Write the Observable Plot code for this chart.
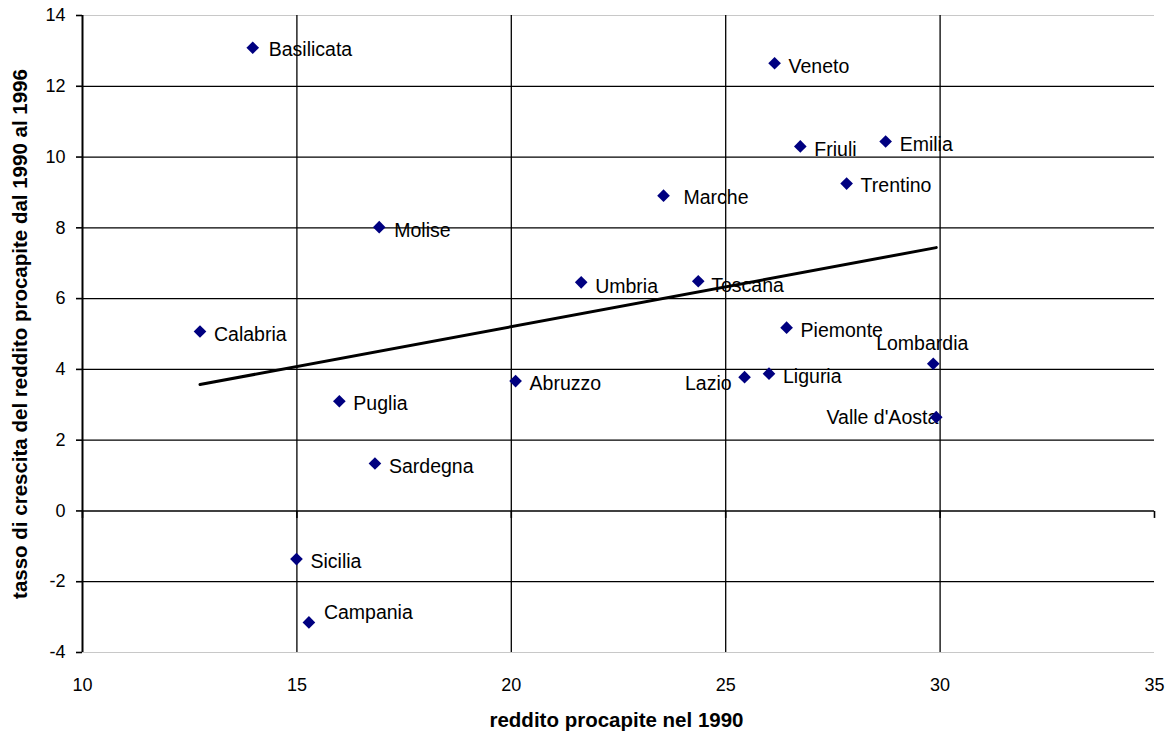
<!DOCTYPE html>
<html>
<head>
<meta charset="utf-8">
<script src="https://cdn.jsdelivr.net/npm/d3@7"></script>
<script src="https://cdn.jsdelivr.net/npm/@observablehq/plot@0.6"></script>
<style>
  html, body { margin: 0; padding: 0; background: #ffffff; }
  #chart { width: 1173px; height: 733px; }
</style>
</head>
<body>
<div id="chart"></div>
<script>
// ---- Data ----
const regions = ["Basilicata", "Molise", "Veneto", "Friuli", "Emilia", "Trentino", "Marche",
  "Piemonte", "Lombardia", "Lazio", "Liguria", "Valle d'Aosta", "Calabria", "Puglia",
  "Abruzzo", "Sardegna", "Sicilia", "Campania", "Umbria", "Toscana"];
const income1990 = [13.97, 16.92, 26.14, 26.74, 28.73, 27.82, 23.55,
  26.42, 29.84, 25.44, 26.01, 29.91, 12.74, 15.99,
  20.10, 16.82, 14.99, 15.28, 21.63, 24.36];
const growth9096 = [13.09, 8.02, 12.65, 10.30, 10.44, 9.25, 8.91,
  5.18, 4.16, 3.78, 3.88, 2.65, 5.07, 3.10,
  3.67, 1.34, -1.36, -3.15, 6.46, 6.49];
const xTicks = [10, 15, 20, 25, 30, 35];
const yTicks = [-4, -2, 0, 2, 4, 6, 8, 10, 12, 14];
const xLabel = "reddito procapite nel 1990";
const yLabel = "tasso di crescita del reddito procapite dal 1990 al 1996";

const data = regions.map((r, i) => ({region: r, x: income1990[i], y: growth9096[i]}));

// ---- Label placement (style) ----
const defaultPlacement = {anchor: "start", dx: 14, dy: 3};
const placement = {
  "Basilicata": {dx: 16, dy: 2},
  "Marche": {dx: 20, dy: 2},
  "Trentino": {dy: 2},
  "Lazio": {anchor: "end", dx: -13, dy: 7},
  "Lombardia": {anchor: "middle", dx: -11, dy: -20},
  "Valle d'Aosta": {anchor: "end", dx: 2, dy: 1},
  "Campania": {dx: 15, dy: -10},
  "Toscana": {dx: 13, dy: 4},
  "Umbria": {dy: 4},
  "Molise": {dx: 15, dy: 4}
};

const gridY = yTicks.filter(v => v !== 0 && v !== yTicks[0] && v !== yTicks[yTicks.length - 1]);
const gridX = xTicks.filter(v => v !== xTicks[0] && v !== xTicks[xTicks.length - 1]);

const tickDown = {draw(context) { context.moveTo(0, 0); context.lineTo(0, 7); }};

const labelMarks = data.map(d => {
  const p = Object.assign({}, defaultPlacement, placement[d.region] || {});
  return Plot.text([d], {
    x: "x", y: "y", text: "region",
    textAnchor: p.anchor, dx: p.dx, dy: p.dy,
    fontSize: 19.5, fill: "black"
  });
});

const chart = Plot.plot({
  width: 1173,
  height: 733,
  marginLeft: 82,
  marginRight: 19,
  marginTop: 15,
  marginBottom: 81,
  style: {fontFamily: "'Liberation Sans', Arial, sans-serif", background: "#ffffff", color: "black", overflow: "visible"},
  x: {domain: [xTicks[0], xTicks[xTicks.length - 1]]},
  y: {domain: [yTicks[0], yTicks[yTicks.length - 1]]},
  marks: [
    // frame borders (top/bottom, light gray)
    Plot.ruleY([yTicks[0], yTicks[yTicks.length - 1]], {stroke: "#c8c8c8", strokeWidth: 1}),
    // grid
    Plot.ruleY(gridY, {stroke: "black", strokeWidth: 1.3}),
    Plot.ruleX(gridX, {stroke: "black", strokeWidth: 1.3}),
    // x axis line at 0
    Plot.ruleY([0], {stroke: "black", strokeWidth: 1.6}),
    Plot.dot(xTicks, {x: d => d, y: 0, symbol: tickDown, stroke: "black", strokeWidth: 1.6, fill: "none"}),
    // y axis line
    Plot.ruleX([xTicks[0]], {stroke: "black", strokeWidth: 2}),
    Plot.axisY(yTicks, {tickSize: 6, tickPadding: 11, fontSize: 18, label: null, strokeWidth: 1.6, tickFormat: d => String(d)}),
    Plot.axisX(xTicks, {tickSize: 0, tickPadding: 26, fontSize: 18, label: null, tickFormat: d => String(d)}),
    // axis titles
    Plot.text([xLabel], {frameAnchor: "bottom", dy: 68, text: d => d, fontSize: 20.5, fontWeight: "bold", lineAnchor: "middle", textAnchor: "middle", dx: -2}),
    Plot.text([yLabel], {frameAnchor: "left", dx: -62, text: d => d, rotate: -90, fontSize: 20.5, fontWeight: "bold", lineAnchor: "middle", textAnchor: "middle"}),
    // labels
    ...labelMarks,
    // points
    Plot.dot(data, {x: "x", y: "y", symbol: "diamond2", r: 5.7, fill: "#000080", stroke: "none"}),
    // trend line
    Plot.linearRegressionY(data, {x: "x", y: "y", ci: 0, stroke: "black", strokeWidth: 3})
  ]
});

document.getElementById("chart").appendChild(chart);
</script>
</body>
</html>
